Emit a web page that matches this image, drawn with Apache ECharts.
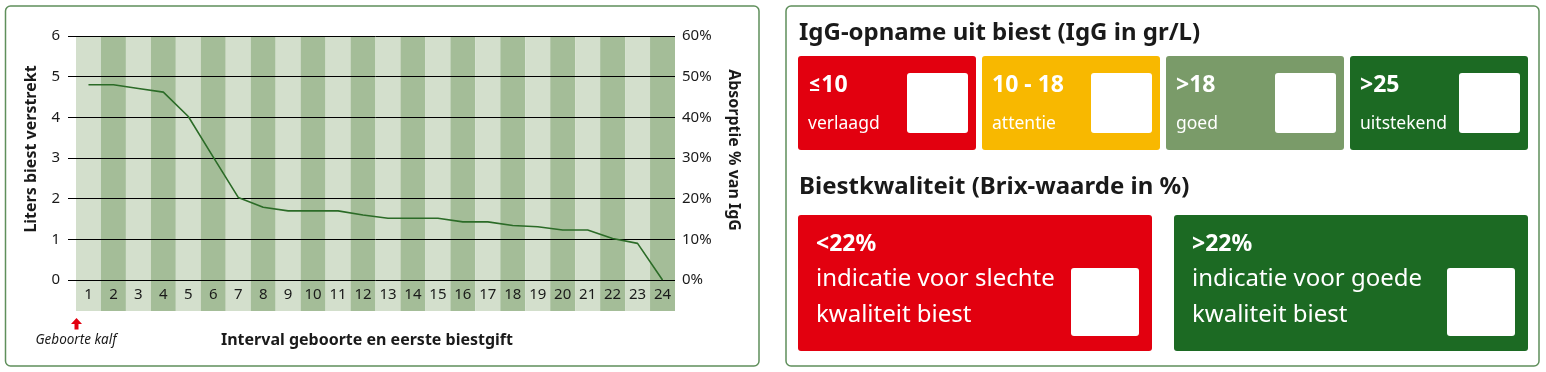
<!DOCTYPE html>
<html>
<head>
<meta charset="utf-8">
<script src="https://cdn.jsdelivr.net/npm/echarts@6/dist/echarts.min.js"></script>
<style>
html,body{margin:0;padding:0;background:#fff;}
#chart{width:1546px;height:372px;}
</style>
</head>
<body>
<div id="chart"></div>
<script>
// ---- data ----
const categories = ['1','2','3','4','5','6','7','8','9','10','11','12','13','14','15','16','17','18','19','20','21','22','23','24'];
const litersValues = [4.80,4.80,4.71,4.62,4.02,3.02,2.03,1.79,1.70,1.70,1.70,1.60,1.52,1.52,1.52,1.43,1.43,1.34,1.31,1.23,1.23,1.02,0.90,0];
const leftAxisRange = [0, 6, 1];      // min, max, interval (liters)
const rightAxisRange = [0, 60, 10];   // min, max, interval (%)
const leftAxisTitle = 'Liters biest verstrekt';
const rightAxisTitle = 'Absorptie % van IgG';
const xAxisTitle = 'Interval geboorte en eerste biestgift';
const birthLabel = 'Geboorte kalf';

const igTitle = 'IgG-opname uit biest (IgG in gr/L)';
const igLabels = ['≤10', '10 - 18', '>18', '>25'];
const igSubs = ['verlaagd', 'attentie', 'goed', 'uitstekend'];
const brixTitle = 'Biestkwaliteit (Brix-waarde in %)';
const brixLabels = ['<22%', '>22%'];
const brixLines = [['indicatie voor slechte', 'kwaliteit biest'], ['indicatie voor goede', 'kwaliteit biest']];

// ---- styles ----
const FONT = '"Noto Sans", Lato, sans-serif';
const TXT = '#1a1a1a';
const stripeLight = '#d3dfcc';
const stripeDark = '#a4bd98';
const lineGreen = '#2b6b27';
const border = '#5f8f5b';
const igColors = ['#e2000f', '#f8b800', '#7a9b69', '#1c6a23'];
const brixColors = ['#e2000f', '#1c6a23'];

const chart = echarts.init(document.getElementById('chart'));

const graphics = [];
// panel borders
graphics.push({type:'rect', shape:{x:5.5,y:6,width:753.5,height:360,r:5}, style:{fill:'none', stroke:border, lineWidth:1.5}, z:0});
graphics.push({type:'rect', shape:{x:786,y:6,width:753,height:360,r:5}, style:{fill:'none', stroke:border, lineWidth:1.5}, z:0});
// axis titles
graphics.push({type:'text', x:31, y:149, rotation:Math.PI/2, style:{text:leftAxisTitle, x:0, y:0, fill:TXT, font:'bold 16px ' + FONT, textAlign:'center', textVerticalAlign:'middle'}});
graphics.push({type:'text', x:734, y:150, rotation:-Math.PI/2, style:{text:rightAxisTitle, x:0, y:0, fill:TXT, font:'bold 16px ' + FONT, textAlign:'center', textVerticalAlign:'middle'}});
graphics.push({type:'text', style:{text:xAxisTitle, x:367, y:340, fill:TXT, font:'bold 16px ' + FONT, textAlign:'center', textVerticalAlign:'middle'}});
// birth arrow + label
graphics.push({type:'polygon', shape:{points:[[76.5,318],[82,324],[78.5,324],[78.5,329.5],[74.5,329.5],[74.5,324],[71,324]]}, style:{fill:'#e2000f'}});
graphics.push({type:'text', style:{text:birthLabel, x:76, y:340, fill:TXT, font:'italic 13.5px ' + FONT, textAlign:'center', textVerticalAlign:'middle'}});

// right panel
graphics.push({type:'text', style:{text:igTitle, x:799, y:33, fill:TXT, font:'bold 24px ' + FONT, textAlign:'left', textVerticalAlign:'middle'}});
const igLeft = [798, 982, 1166, 1350];
igLabels.forEach(function(lbl, i){
  const x0 = igLeft[i];
  graphics.push({type:'rect', shape:{x:x0, y:56, width:178, height:94, r:3}, style:{fill:igColors[i]}});
  graphics.push({type:'rect', shape:{x:x0+109, y:73, width:61, height:60, r:3}, style:{fill:'#ffffff'}});
  graphics.push({type:'text', style:{text:lbl, x:x0+10, y:85, fill:'#ffffff', font:'bold 23px ' + FONT, textAlign:'left', textVerticalAlign:'middle'}});
  graphics.push({type:'text', style:{text:igSubs[i], x:x0+10, y:124, fill:'#ffffff', font:'17.5px ' + FONT, textAlign:'left', textVerticalAlign:'middle'}});
});
graphics.push({type:'text', style:{text:brixTitle, x:799, y:187, fill:TXT, font:'bold 24px ' + FONT, textAlign:'left', textVerticalAlign:'middle'}});
const brixLeft = [798, 1174];
brixLabels.forEach(function(lbl, i){
  const x0 = brixLeft[i];
  graphics.push({type:'rect', shape:{x:x0, y:215, width:354, height:136, r:3}, style:{fill:brixColors[i]}});
  graphics.push({type:'rect', shape:{x:x0+273, y:268, width:68, height:68, r:3}, style:{fill:'#ffffff'}});
  graphics.push({type:'text', style:{text:lbl, x:x0+18, y:244, fill:'#ffffff', font:'bold 23px ' + FONT, textAlign:'left', textVerticalAlign:'middle'}});
  brixLines[i].forEach(function(t, j){
    graphics.push({type:'text', style:{text:t, x:x0+18, y:279 + j*36, fill:'#ffffff', font:'24px ' + FONT, textAlign:'left', textVerticalAlign:'middle'}});
  });
});

const option = {
  animation: false,
  backgroundColor: '#ffffff',
  grid: [
    {left:76, top:36, width:599, height:244},
    {left:76, top:36, width:599, height:275}
  ],
  xAxis: [
    {type:'category', gridIndex:0, data:categories, boundaryGap:true, z:3,
     axisLine:{show:false}, axisTick:{show:false}, splitLine:{show:false},
     axisLabel:{margin:7, color:TXT, fontSize:15, fontFamily:FONT, interval:0}},
    {type:'category', gridIndex:1, data:categories, boundaryGap:true, z:0,
     axisLine:{show:false}, axisTick:{show:false}, axisLabel:{show:false}, splitLine:{show:false},
     splitArea:{show:true, interval:0, areaStyle:{color:[stripeLight, stripeDark]}}}
  ],
  yAxis: [
    {type:'value', gridIndex:0, min:leftAxisRange[0], max:leftAxisRange[1], interval:leftAxisRange[2], position:'left', z:2,
     axisLine:{show:false}, axisTick:{show:true, length:8, lineStyle:{color:'#000', width:1}},
     splitLine:{show:true, lineStyle:{color:'#000', width:1}},
     axisLabel:{margin:16, color:TXT, fontSize:15, fontFamily:FONT}},
    {type:'value', gridIndex:0, min:rightAxisRange[0], max:rightAxisRange[1], interval:rightAxisRange[2], position:'right', z:2,
     axisLine:{show:false}, axisTick:{show:false}, splitLine:{show:false},
     axisLabel:{margin:7, color:TXT, fontSize:15, fontFamily:FONT, formatter:'{value}%'}},
    {type:'value', gridIndex:1, show:false, min:0, max:1}
  ],
  series: [
    {type:'line', xAxisIndex:0, yAxisIndex:0, data:litersValues, symbol:'none', z:5,
     lineStyle:{color:lineGreen, width:1.6}}
  ],
  graphic: graphics
};
chart.setOption(option);
</script>
</body>
</html>
